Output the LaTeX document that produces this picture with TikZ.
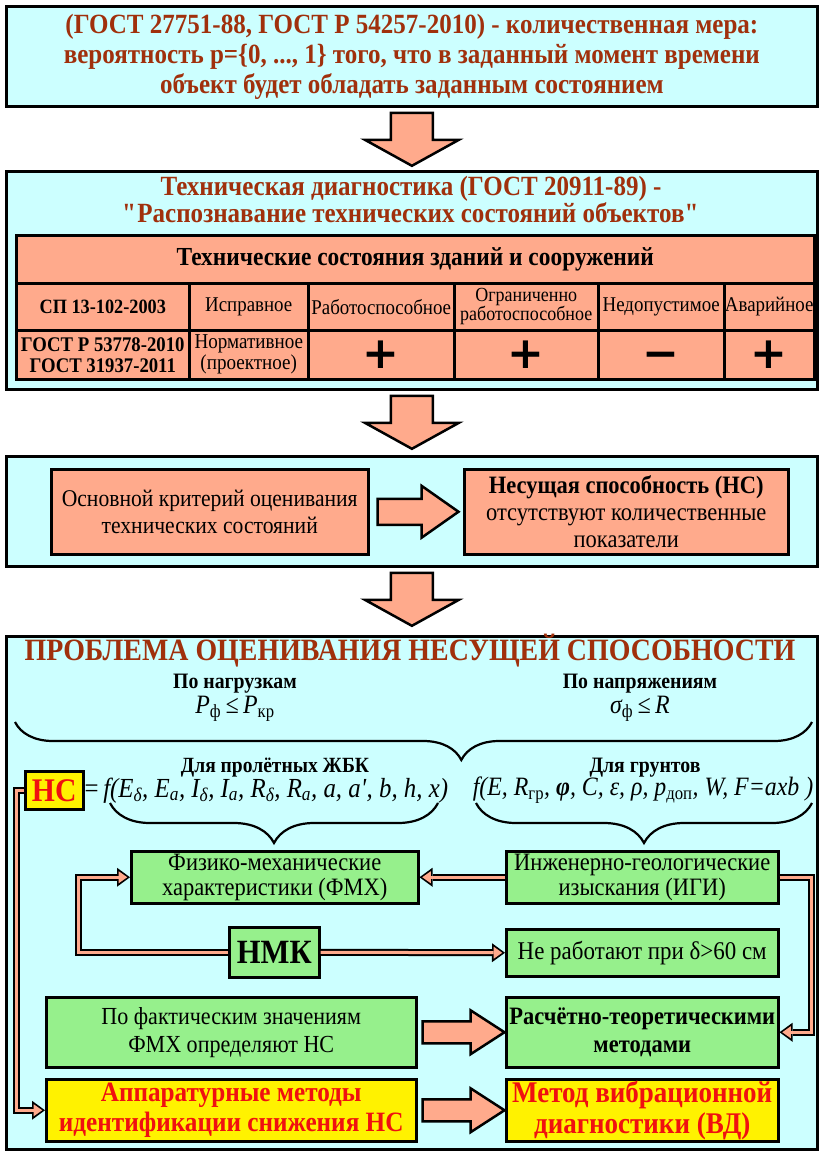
\documentclass[tikz,border=0pt]{standalone}
\usepackage{fontspec}
\setmainfont{Liberation Serif}[FakeStretch=0.9]
\newfontfamily\signfont{DejaVu Sans}
\usetikzlibrary{arrows.meta}
\usetikzlibrary{decorations.pathreplacing}
\definecolor{skyfill}{HTML}{CCFFFF}
\definecolor{salmon}{HTML}{FFAA8C}
\definecolor{mint}{HTML}{96F08C}
\definecolor{brick}{HTML}{A0300C}
\definecolor{alarm}{HTML}{F01010}
\newcommand{\sbs}[1]{\textsubscript{#1}}
\newcommand{\fsz}[2]{\fontsize{#1}{#2}\selectfont}
\tikzset{
	panel/.style = {draw=black, line width=2.8pt, fill=skyfill, anchor=north west,
		inner sep=0pt, align=center},
	box/.style = {draw=black, line width=2.5pt, anchor=north west, inner sep=0pt,
		align=center, font=\fsz{25}{25}},% rectangle with text
	cell/.style = {box, fill=salmon, font=\fsz{21}{22}},% table cell
	sign/.style = {cell, minimum height=49, text height=28pt, text depth=0pt,
		font=\signfont\bfseries\fsz{44}{44}},% + or - in the table
	salbox/.style = {box, fill=salmon, font=\fsz{25}{27}},
	grnbox/.style = {box, fill=mint},
	ylwbox/.style = {box, fill=yellow, text=alarm, font=\bfseries\fsz{28}{30}},
	label/.style = {inner sep=0pt, align=center, font=\bfseries\fsz{22}{24}},
	formula/.style = {inner sep=0pt, font=\itshape\fsz{26.5}{28}},
	curly/.style = {decorate, decoration={brace, mirror, amplitude=#1}, line width=2.2pt},
	blockarrow/.style = {draw=black, fill=salmon, line width=2.5pt, line join=miter},
	link/.style = {line width=7pt, draw=black, line join=miter,
		-{Triangle[length=13pt,width=19pt,line width=0pt]}},% outline of connector
	link fill/.style = {line width=3pt, draw=salmon, line join=miter,
		-{Triangle[length=8.5pt,width=12pt,line width=0pt]}, shorten >=2.8pt},
	pics/downblock/.style = {code={\draw[blockarrow] (-21,0) -- (21,0) -- (21,27)
		-- (47,27) -- (0,53) -- (-47,27) -- (-21,27) -- cycle;}},
	pics/rightblock/.style args = {#1/#2/#3/#4}{code={\draw[blockarrow] (0,-#2)
		-- (#1-#4,-#2) -- (#1-#4,-#3) -- (#1,0) -- (#1-#4,#3) -- (#1-#4,#2) -- (0,#2) -- cycle;}}
}
\newcommand{\hollowlink}[1]{\draw[link] #1; \draw[link fill] #1;}

\begin{document}
\begin{tikzpicture}[x=1pt, y=-1pt]
\useasboundingbox (0,0) rectangle (819,1151);

% definition
\node[panel, minimum width=811, minimum height=100, text=brick,
	font=\bfseries\fsz{27.8}{30}] (gost) at (5,5)
	{(ГОСТ 27751-88, ГОСТ Р 54257-2010) - количественная мера:\\
	вероятность р=\{0, ..., 1\} того, что в заданный момент времени\\
	объект будет обладать заданным состоянием};
\path (gost.south) ++(0,5) pic {downblock};

% technical diagnostics
\node[panel, minimum width=811, minimum height=218] (diag) at (5,170) {};
\node[label, text=brick, font=\bfseries\fsz{27.8}{27}] (diagtitle) at (411,199)
	{Техническая диагностика (ГОСТ 20911-89) -\\
	\textquotedbl Распознавание технических состояний объектов\textquotedbl};
\node[cell, minimum width=798, minimum height=48, font=\bfseries\fsz{26}{26}] (states) at (15,234)
	{Технические состояния зданий и сооружений};
\node[cell, minimum width=173, minimum height=47, font=\bfseries\fsz{20.3}{22}] (sp) at (15,282) {СП 13-102-2003};
\node[cell, minimum width=119, minimum height=47] (ok) at (188,282) {Исправное};
\node[cell, minimum width=146, minimum height=47] (work) at (307,282) {Работоспособное};
\node[cell, minimum width=144, minimum height=47, font=\fsz{20}{19}] (limited) at (453,282)
	{Ограниченно\\работоспособное};
\node[cell, minimum width=126, minimum height=47] (bad) at (597,282) {Недопустимое};
\node[cell, minimum width=90, minimum height=47] (crash) at (723,282) {Аварийное};
\node[cell, minimum width=173, minimum height=49, font=\bfseries\fsz{20.8}{21}] (gostr) at (15,329)
	{ГОСТ Р 53778-2010\\ГОСТ 31937-2011};
\node[cell, minimum width=119, minimum height=49, font=\fsz{21.2}{21}] (norm) at (188,329)
	{Нормативное\\(проектное)};
\node[sign, minimum width=146] (workp) at (307,329) {+};
\node[sign, minimum width=144] (limitedp) at (453,329) {+};
\node[sign, minimum width=126] (badm) at (597,329) {−};
\node[sign, minimum width=90] (crashp) at (723,329) {+};
\path (diag.south) ++(0,5) pic {downblock};

% criterion
\node[panel, minimum width=811, minimum height=110] (crit) at (5,455) {};
\node[salbox, minimum width=317, minimum height=85, font=\fsz{24}{27}] (basic) at (50,468)
	{Основной критерий оценивания\\технических состояний};
\node[salbox, minimum width=324, minimum height=85] (capacity) at (463,468)
	{\textbf{Несущая способность (НС)}\\отсутствуют количественные\\показатели};
\path (basic.east) ++(8,0) pic {rightblock=81/13/26/37};
\path (crit.south) ++(0,5) pic {downblock};

% problem
\node[panel, minimum width=811, minimum height=513] (problem) at (5,635) {};
\node[label, text=brick, font=\bfseries\fsz{31}{32}] (probtitle) at (410,651)
	{ПРОБЛЕМА ОЦЕНИВАНИЯ НЕСУЩЕЙ СПОСОБНОСТИ};
\node[label] (loads) at (235,684) {По нагрузкам};
\node[formula] (loadsf) at (235,709) {P\sbs{\upshape ф}\,≤\,P\sbs{\upshape кр}};
\node[label] (stress) at (640,684) {По напряжениям};
\node[formula] (stressf) at (640,709) {σ\sbs{\upshape ф}\,≤\,R};
\draw[curly=38, decoration={aspect=0.56}] (15,722) -- (812,722);
\node[label, font=\bfseries\fsz{21.7}{24}] (rc) at (275,768) {Для пролётных ЖБК};
\node[label] (soil) at (645,768) {Для грунтов};
\node[box, fill=yellow, text=alarm, font=\bfseries\fsz{33}{33}, minimum width=58,
	minimum height=38] (hc) at (24,770) {НС};
\node[formula, anchor=west, font=\itshape\fsz{27.6}{28}] (rcf) at (hc.east)
	{\upshape=\,\itshape f(E\sbs{δ}, E\sbs{a}, I\sbs{δ}, I\sbs{a}, R\sbs{δ}, R\sbs{a}, a, a\textquotesingle, b, h, x)};
\node[formula] (soilf) at (643,790)
	{f(E, R\sbs{\upshape гр}, \textbf{φ}, C, ε, ρ, p\sbs{\upshape доп}, W, F=axb )};
\draw[curly=40] (110,803) -- (438,803);
\draw[curly=40] (476,803) -- (812,803);

\node[grnbox, minimum width=287, minimum height=52] (fmx) at (130,850)
	{Физико-механические\\характеристики (ФМХ)};
\node[grnbox, minimum width=272, minimum height=52] (igi) at (505,850)
	{Инженерно-геологические\\изыскания (ИГИ)};
\node[grnbox, minimum width=90, minimum height=50, font=\bfseries\fsz{34}{34}] (nmk) at (228,926) {НМК};
\node[grnbox, minimum width=272, minimum height=47, font=\fsz{25.5}{25}] (nowork) at (505,928)
	{Не работают при δ>60 см};
\node[grnbox, minimum width=370, minimum height=70, font=\fsz{24.5}{28}] (fact) at (45,996)
	{По фактическим значениям\\ФМХ определяют НС};
\node[grnbox, minimum width=272, minimum height=70, font=\bfseries\fsz{25}{28}] (calc) at (505,996)
	{Расчётно-теоретическими\\методами};
\node[ylwbox, minimum width=370, minimum height=62] (app) at (45,1078)
	{Аппаратурные методы\\идентификации снижения НС};
\node[ylwbox, minimum width=272, minimum height=62, font=\bfseries\fsz{30}{31}] (vibro) at (505,1078)
	{Метод вибрационной\\диагностики (ВД)};

\hollowlink{(igi.west) -- (fmx.east)}
\hollowlink{(nmk.west) -- ++(-150,0) |- (fmx.west)}
\hollowlink{(nmk.east) -- (nowork.west)}
\hollowlink{(igi.east) -- ++(32,0) |- (calc.east)}
\hollowlink{(hc.west) -- ++(-8,0) |- (app.west)}
\path (fact.east) ++(5,0) pic {rightblock=82/11/22/34};
\path (app.east) ++(5,0) pic {rightblock=82/11/22/34};
\end{tikzpicture}
\end{document}
